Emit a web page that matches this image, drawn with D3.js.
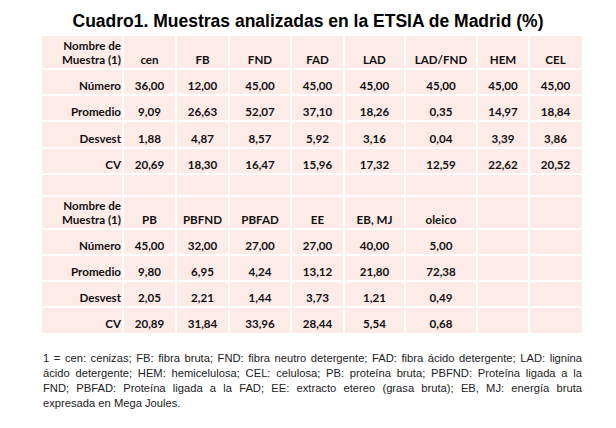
<!DOCTYPE html>
<html>
<head>
<meta charset="utf-8">
<script src="https://cdn.jsdelivr.net/npm/d3@7"></script>
<style>
  body { margin: 0; background: #fff; }
  svg { display: block; }
</style>
</head>
<body>
<svg id="chart" width="616" height="428"></svg>
<script>
var title = "Cuadro1. Muestras analizadas en la ETSIA de Madrid (%)";
var headLabel = ["Nombre de", "Muestra (1)"];
var rowLabels = ["Número", "Promedio", "Desvest", "CV"];

// bloque 1
var vars1 = ["cen", "FB", "FND", "FAD", "LAD", "LAD/FND", "HEM", "CEL"];
var numero1 = [36.00, 12.00, 45.00, 45.00, 45.00, 45.00, 45.00, 45.00];
var promedio1 = [9.09, 26.63, 52.07, 37.10, 18.26, 0.35, 14.97, 18.84];
var desvest1 = [1.88, 4.87, 8.57, 5.92, 3.16, 0.04, 3.39, 3.86];
var cv1 = [20.69, 18.30, 16.47, 15.96, 17.32, 12.59, 22.62, 20.52];

// bloque 2
var vars2 = ["PB", "PBFND", "PBFAD", "EE", "EB, MJ", "oleico"];
var numero2 = [45.00, 32.00, 27.00, 27.00, 40.00, 5.00];
var promedio2 = [9.80, 6.95, 4.24, 13.12, 21.80, 72.38];
var desvest2 = [2.05, 2.21, 1.44, 3.73, 1.21, 0.49];
var cv2 = [20.89, 31.84, 33.96, 28.44, 5.54, 0.68];

var footnoteLines = [
    "1 = cen: cenizas; FB: fibra bruta; FND: fibra neutro detergente; FAD: fibra ácido detergente; LAD: lignina",
    "ácido detergente; HEM: hemicelulosa; CEL: celulosa; PB: proteína bruta; PBFND: Proteína ligada a la",
    "FND; PBFAD: Proteína ligada a la FAD; EE: extracto etereo (grasa bruta); EB, MJ: energía bruta",
    "expresada en Mega Joules."
];

// layout
var colEdges = [42, 123, 176, 229, 291, 344, 405, 477, 529, 582];
var rowEdges = [36, 69, 95, 121, 148, 174, 196, 229, 255, 281, 307, 333];
var pink = "#fdebe8";
var fmt = function(v) { return d3.format(".2f")(v).replace(".", ","); };

var svg = d3.select("#chart");
var nCols = colEdges.length - 1;

svg.append("text")
    .attr("x", 308).attr("y", 27)
    .attr("text-anchor", "middle")
    .style("font-family", "'Liberation Sans', Arial, sans-serif")
    .style("font-weight", "bold")
    .style("font-size", "17.5px")
    .text(title);

var table = svg.append("g");

table.append("rect")
    .attr("x", colEdges[0]).attr("y", rowEdges[0])
    .attr("width", colEdges[nCols] - colEdges[0])
    .attr("height", rowEdges[rowEdges.length - 1] - rowEdges[0])
    .attr("fill", pink);

table.selectAll("line.v")
    .data(colEdges.slice(1, -1))
    .enter().append("line")
    .attr("x1", d => d).attr("x2", d => d)
    .attr("y1", rowEdges[0]).attr("y2", rowEdges[rowEdges.length - 1])
    .attr("stroke", "#fff").attr("stroke-width", 2);

table.selectAll("line.h")
    .data(rowEdges.slice(1, -1))
    .enter().append("line")
    .attr("x1", colEdges[0]).attr("x2", colEdges[nCols])
    .attr("y1", d => d).attr("y2", d => d)
    .attr("stroke", "#fff").attr("stroke-width", 2);

function block(vars, stats, r0) {
    var cells = [];
    headLabel.forEach(function(t, i) {
        cells.push({ c: 0, r: r0, t: t, anchor: "end", dy: (i - 1) * 14.3 });
    });
    vars.forEach(function(v, i) { cells.push({ c: i + 1, r: r0, t: v }); });
    stats.forEach(function(s, j) {
        cells.push({ c: 0, r: r0 + j + 1, t: rowLabels[j], anchor: "end" });
        s.forEach(function(v, i) { cells.push({ c: i + 1, r: r0 + j + 1, t: fmt(v) }); });
    });
    table.append("g").selectAll("text")
        .data(cells)
        .enter().append("text")
        .attr("x", d => d.anchor === "end" ? colEdges[d.c + 1] - 2 : (colEdges[d.c] + colEdges[d.c + 1]) / 2)
        .attr("y", d => rowEdges[d.r + 1] - 4.6 + (d.dy || 0))
        .attr("text-anchor", d => d.anchor || "middle")
        .style("font-family", "Lato, 'Open Sans', sans-serif")
        .style("font-weight", "bold")
        .style("font-size", "11.6px")
        .attr("fill", "#111")
        .text(d => d.t);
}

block(vars1, [numero1, promedio1, desvest1, cv1], 0);
block(vars2, [numero2, promedio2, desvest2, cv2], 6);

// nota al pie, justificada
var noteLeft = 43, noteRight = 582, noteTop = 362, lineH = 14.9;
var noteG = svg.append("g")
    .style("font-family", "'Liberation Sans', Arial, sans-serif")
    .style("font-size", "11.2px")
    .attr("fill", "#222");

footnoteLines.forEach(function(line, li) {
    var ws = line.split(" ");
    var y = noteTop + li * lineH;
    var last = li === footnoteLines.length - 1;
    var widths = ws.map(function(w) {
        var t = noteG.append("text").text(w);
        var wd = t.node().getComputedTextLength();
        t.remove();
        return wd;
    });
    var total = d3.sum(widths);
    var spaceW = last ? 3.1 : (noteRight - noteLeft - total) / (ws.length - 1);
    var xx = noteLeft;
    ws.forEach(function(w, i) {
        noteG.append("text").attr("x", xx).attr("y", y).text(w);
        xx += widths[i] + spaceW;
    });
});
</script>
</body>
</html>
